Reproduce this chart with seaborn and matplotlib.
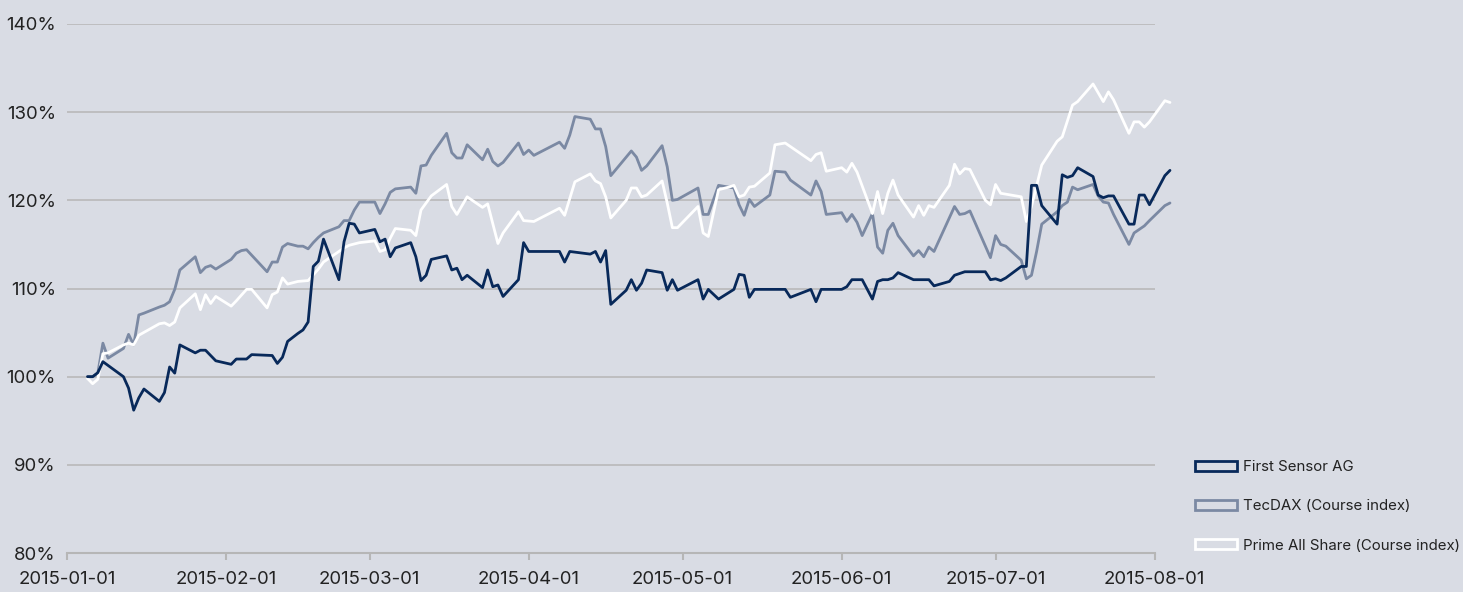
import matplotlib
matplotlib.use("Agg")
import matplotlib.pyplot as plt
import matplotlib.dates as mdates
from matplotlib.patches import Patch
from matplotlib.ticker import FuncFormatter
import pandas as pd
import seaborn as sns

# ---------------- data ----------------
fs_dates = ["01-05", "01-06", "01-07", "01-08", "01-12", "01-13", "01-14", "01-15", "01-16", "01-19",
            "01-20", "01-21", "01-22", "01-23", "01-26", "01-27", "01-28", "01-30", "02-02", "02-03",
            "02-05", "02-06", "02-10", "02-11", "02-12", "02-13", "02-15", "02-16", "02-17", "02-18",
            "02-19", "02-20", "02-23", "02-24", "02-25", "02-26", "02-27", "03-02", "03-03", "03-04",
            "03-05", "03-06", "03-09", "03-10", "03-11", "03-12", "03-13", "03-16", "03-17", "03-18",
            "03-19", "03-20", "03-23", "03-24", "03-25", "03-26", "03-27", "03-30", "03-31", "04-01",
            "04-07", "04-08", "04-09", "04-13", "04-14", "04-15", "04-16", "04-17", "04-20", "04-21",
            "04-22", "04-23", "04-24", "04-27", "04-28", "04-29", "04-30", "05-04", "05-05", "05-06",
            "05-08", "05-11", "05-12", "05-13", "05-14", "05-15", "05-21", "05-22", "05-26", "05-27",
            "05-28", "06-01", "06-02", "06-03", "06-05", "06-07", "06-08", "06-09", "06-10", "06-11",
            "06-12", "06-15", "06-18", "06-19", "06-22", "06-23", "06-24", "06-25", "06-29", "06-30",
            "07-01", "07-02", "07-03", "07-06", "07-07", "07-08", "07-09", "07-10", "07-13", "07-14",
            "07-15", "07-16", "07-17", "07-20", "07-21", "07-22", "07-23", "07-24", "07-27", "07-28",
            "07-29", "07-30", "07-31", "08-03", "08-04"]
fs_values = [100.0, 100.0, 100.45, 101.7, 100.0, 98.7, 96.2, 97.6, 98.6, 97.2,
             98.2, 101.1, 100.4, 103.6, 102.7, 103.0, 103.0, 101.8, 101.4, 102.0,
             102.0, 102.5, 102.4, 101.5, 102.2, 104.0, 104.9, 105.3, 106.2, 112.5,
             113.1, 115.6, 111.0, 115.3, 117.4, 117.3, 116.3, 116.7, 115.3, 115.6,
             113.6, 114.6, 115.2, 113.6, 110.9, 111.5, 113.3, 113.7, 112.1, 112.3,
             111.0, 111.5, 110.1, 112.1, 110.2, 110.4, 109.1, 111.0, 115.2, 114.2,
             114.2, 113.0, 114.2, 113.9, 114.2, 113.0, 114.3, 108.2, 109.8, 111.0,
             109.8, 110.6, 112.1, 111.8, 109.8, 111.0, 109.8, 111.0, 108.8, 109.9,
             108.8, 109.9, 111.6, 111.5, 109.0, 109.9, 109.9, 109.0, 109.9, 108.5,
             109.9, 109.9, 110.2, 111.0, 111.0, 108.8, 110.8, 111.0, 111.0, 111.2,
             111.8, 111.0, 111.0, 110.3, 110.8, 111.5, 111.7, 111.9, 111.9, 111.0,
             111.1, 110.9, 111.2, 112.5, 112.5, 121.7, 121.7, 119.4, 117.3, 122.9,
             122.6, 122.8, 123.7, 122.7, 120.6, 120.3, 120.5, 120.5, 117.3, 117.3,
             120.6, 120.6, 119.5, 122.8, 123.4]

tec_dates = ["01-05", "01-06", "01-07", "01-08", "01-09", "01-12", "01-13", "01-14", "01-15", "01-16",
             "01-19", "01-20", "01-21", "01-22", "01-23", "01-26", "01-27", "01-28", "01-29", "01-30",
             "02-02", "02-03", "02-04", "02-05", "02-09", "02-10", "02-11", "02-12", "02-13", "02-15",
             "02-16", "02-17", "02-18", "02-19", "02-20", "02-23", "02-24", "02-25", "02-26", "02-27",
             "03-02", "03-03", "03-04", "03-05", "03-06", "03-09", "03-10", "03-11", "03-12", "03-13",
             "03-16", "03-17", "03-18", "03-19", "03-20", "03-23", "03-24", "03-25", "03-26", "03-27",
             "03-30", "03-31", "04-01", "04-02", "04-07", "04-08", "04-09", "04-10", "04-13", "04-14",
             "04-15", "04-16", "04-17", "04-21", "04-22", "04-23", "04-24", "04-27", "04-28", "04-29",
             "04-30", "05-04", "05-05", "05-06", "05-08", "05-11", "05-12", "05-13", "05-14", "05-15",
             "05-18", "05-19", "05-21", "05-22", "05-26", "05-27", "05-28", "05-29", "06-01", "06-02",
             "06-03", "06-04", "06-05", "06-07", "06-08", "06-09", "06-10", "06-11", "06-12", "06-15",
             "06-16", "06-17", "06-18", "06-19", "06-23", "06-24", "06-25", "06-26", "06-30", "07-01",
             "07-02", "07-03", "07-06", "07-07", "07-08", "07-09", "07-10", "07-13", "07-14", "07-15",
             "07-16", "07-17", "07-20", "07-21", "07-22", "07-23", "07-24", "07-27", "07-28", "07-29",
             "07-30", "07-31", "08-03", "08-04"]
tec_values = [100.0, 100.0, 100.4, 103.8, 102.1, 103.2, 104.8, 103.6, 107.0, 107.2,
              107.9, 108.1, 108.5, 109.9, 112.1, 113.6, 111.8, 112.4, 112.6, 112.2,
              113.3, 114.0, 114.3, 114.4, 111.9, 113.0, 113.0, 114.7, 115.1, 114.8,
              114.8, 114.5, 115.2, 115.8, 116.3, 117.0, 117.7, 117.7, 118.9, 119.8,
              119.8, 118.5, 119.6, 120.9, 121.3, 121.5, 120.8, 123.9, 124.0, 125.1,
              127.6, 125.4, 124.8, 124.8, 126.3, 124.6, 125.8, 124.4, 123.9, 124.3,
              126.5, 125.2, 125.7, 125.1, 126.6, 125.9, 127.4, 129.5, 129.2, 128.1,
              128.1, 126.1, 122.8, 125.6, 124.9, 123.4, 123.9, 126.2, 123.8, 120.0,
              120.1, 121.4, 118.4, 118.4, 121.7, 121.4, 119.5, 118.3, 120.1, 119.3,
              120.6, 123.3, 123.2, 122.3, 120.6, 122.2, 121.0, 118.4, 118.6, 117.6,
              118.4, 117.5, 116.0, 118.5, 114.7, 114.0, 116.6, 117.4, 116.0, 113.7,
              114.3, 113.6, 114.7, 114.2, 119.3, 118.4, 118.5, 118.8, 113.5, 116.0,
              115.0, 114.8, 113.2, 111.1, 111.5, 114.2, 117.3, 118.7, 119.4, 119.8,
              121.5, 121.2, 121.8, 120.5, 119.8, 119.7, 118.4, 115.0, 116.3, 116.7,
              117.1, 117.7, 119.4, 119.7]

pas_dates = ["01-05", "01-06", "01-07", "01-08", "01-09", "01-12", "01-13", "01-14", "01-15", "01-19",
             "01-20", "01-21", "01-22", "01-23", "01-26", "01-27", "01-28", "01-29", "01-30", "02-02",
             "02-03", "02-05", "02-06", "02-09", "02-10", "02-11", "02-12", "02-13", "02-15", "02-17",
             "02-19", "02-20", "02-23", "02-24", "02-25", "02-27", "03-02", "03-03", "03-04", "03-05",
             "03-06", "03-09", "03-10", "03-11", "03-13", "03-16", "03-17", "03-18", "03-20", "03-23",
             "03-24", "03-26", "03-27", "03-30", "03-31", "04-02", "04-07", "04-08", "04-10", "04-13",
             "04-14", "04-15", "04-16", "04-17", "04-20", "04-21", "04-22", "04-23", "04-24", "04-27",
             "04-28", "04-29", "04-30", "05-04", "05-05", "05-06", "05-08", "05-10", "05-11", "05-12",
             "05-13", "05-14", "05-15", "05-18", "05-19", "05-21", "05-26", "05-27", "05-28", "05-29",
             "06-01", "06-02", "06-03", "06-04", "06-07", "06-08", "06-09", "06-10", "06-11", "06-12",
             "06-15", "06-16", "06-17", "06-18", "06-19", "06-22", "06-23", "06-24", "06-25", "06-26",
             "06-29", "06-30", "07-01", "07-02", "07-06", "07-07", "07-08", "07-10", "07-13", "07-14",
             "07-16", "07-17", "07-20", "07-22", "07-23", "07-24", "07-27", "07-28", "07-29", "07-30",
             "07-31", "08-03", "08-04"]
pas_values = [99.8, 99.2, 99.7, 102.6, 102.7, 103.6, 103.8, 103.6, 104.7, 106.0,
              106.1, 105.8, 106.2, 107.8, 109.4, 107.6, 109.3, 108.3, 109.1, 108.0,
              108.6, 109.9, 109.9, 107.8, 109.3, 109.6, 111.2, 110.5, 110.8, 110.9,
              112.2, 113.0, 114.2, 114.6, 114.9, 115.2, 115.4, 114.2, 114.4, 115.7,
              116.8, 116.6, 116.0, 118.9, 120.5, 121.8, 119.3, 118.4, 120.4, 119.2,
              119.6, 115.1, 116.3, 118.7, 117.7, 117.6, 119.1, 118.3, 122.1, 123.0,
              122.2, 121.9, 120.4, 118.0, 120.0, 121.4, 121.4, 120.4, 120.6, 122.2,
              119.7, 116.9, 116.9, 119.3, 116.3, 115.9, 121.2, 121.5, 121.7, 120.4,
              120.6, 121.5, 121.6, 123.1, 126.3, 126.5, 124.5, 125.2, 125.4, 123.3,
              123.7, 123.2, 124.2, 123.2, 118.5, 121.0, 118.5, 120.8, 122.3, 120.6,
              118.1, 119.4, 118.3, 119.4, 119.2, 121.7, 124.1, 123.0, 123.6, 123.5,
              120.0, 119.5, 121.8, 120.8, 120.4, 117.6, 119.3, 124.0, 126.7, 127.2,
              130.8, 131.2, 133.2, 131.2, 132.3, 131.4, 127.6, 128.9, 128.9, 128.3,
              128.9, 131.3, 131.1]

series_names = ["First Sensor AG", "TecDAX (Course index)", "Prime All Share (Course index)"]
series_colors = ["#08295a", "#7b89a3", "#ffffff"]
x_ticks = ["2015-01-01", "2015-02-01", "2015-03-01", "2015-04-01", "2015-05-01",
           "2015-06-01", "2015-07-01", "2015-08-01"]
y_ticks = [80, 90, 100, 110, 120, 130, 140]

# ---------------- build long table ----------------
frames = []
for name, d, v in zip(series_names,
                      [fs_dates, tec_dates, pas_dates],
                      [fs_values, tec_values, pas_values]):
    frames.append(pd.DataFrame({"date": pd.to_datetime(["2015-" + s for s in d]),
                                "value": v, "series": name}))
df = pd.concat(frames, ignore_index=True)

BG = "#d9dce4"
GRID = "#b6b6b6"

sns.set_theme(style="white")
plt.rcParams["font.family"] = ["Inter", "DejaVu Sans"]

fig = plt.figure(figsize=(14.63, 5.92), dpi=100, facecolor=BG)
ax = fig.add_axes([67 / 1463, 1 - 553 / 592, (1154.6 - 67) / 1463, (553 - 24) / 592])
ax.set_facecolor(BG)

palette = dict(zip(series_names, series_colors))
draw_order = [series_names[1], series_names[2], series_names[0]]
sns.lineplot(data=df, x="date", y="value", hue="series", hue_order=draw_order,
             palette=palette, linewidth=2.0, ax=ax, legend=False,
             estimator=None, sort=True, clip_on=False, zorder=3)

ax.set_xlim(pd.Timestamp("2015-01-01"), pd.Timestamp("2015-08-01"))
ax.set_ylim(80, 140)
ax.set_yticks(y_ticks)
ax.yaxis.set_major_formatter(FuncFormatter(lambda v, p: f"{v:.0f}%"))
ax.set_xticks(pd.to_datetime(x_ticks))
ax.xaxis.set_major_formatter(mdates.DateFormatter("%Y-%m-%d"))
ax.set_xlabel("")
ax.set_ylabel("")

for s in ["top", "right", "left"]:
    ax.spines[s].set_visible(False)
ax.spines["bottom"].set_color(GRID)
ax.spines["bottom"].set_linewidth(1.5)
ax.grid(axis="y", color=GRID, linewidth=1.1, zorder=0)
ax.grid(axis="x", visible=False)
ax.set_axisbelow(True)

ax.tick_params(axis="x", which="major", direction="out", length=5, width=1.5,
               color=GRID, pad=8, labelsize=13.4, labelcolor="#222222", bottom=True)
ax.tick_params(axis="y", length=0, pad=8, labelsize=13.4, labelcolor="#222222")

handles = [Patch(facecolor=BG, edgecolor=c, linewidth=2, label=n)
           for n, c in zip(series_names, series_colors)]
leg = fig.legend(handles=handles, loc="lower left",
                 bbox_to_anchor=(1181 / 1463, 26 / 592), frameon=False,
                 fontsize=10.8, handlelength=2.8, handleheight=0.65,
                 handletextpad=0.45, labelspacing=1.68)
for t in leg.get_texts():
    t.set_color("#222222")

fig.savefig("out.png", dpi=100, facecolor=BG)
